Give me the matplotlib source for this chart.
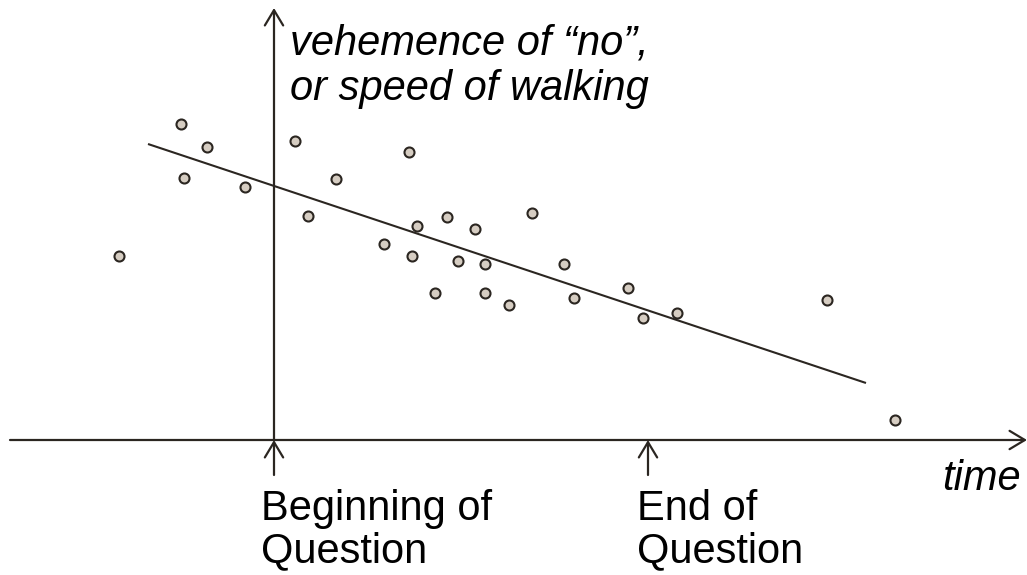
import matplotlib

matplotlib.use("Agg")
import matplotlib.pyplot as plt

# readings (time, vehemence), origin at the axes crossing
time_pts = [-1.55, -0.93, -0.67, -0.90, -0.29, 0.21, 0.34, 0.62, 1.35, 1.10, 1.43, 1.38, 1.73, 2.01,
            1.84, 2.11, 1.61, 2.11, 2.35, 2.58, 2.90, 3.00, 3.54, 3.69, 4.03, 5.53, 6.21]
vehemence = [1.84, 3.16, 2.93, 2.62, 2.53, 2.99, 2.24, 2.61, 2.88, 1.96, 2.14, 1.84, 2.23, 2.11,
             1.79, 1.76, 1.47, 1.47, 1.35, 2.27, 1.76, 1.42, 1.52, 1.22, 1.27, 1.40, 0.20]
trend_x = [-1.26, 5.92]
trend_y = [2.96, 0.57]

question_start = 0.0
question_end = 3.74

INK = "#2b2621"
FILL = "#d6cdc2"
FONT = "Liberation Sans"
FS = 30

fig = plt.figure(figsize=(10.27, 5.75), dpi=100)
ax = fig.add_axes([0, 0, 1, 1])
ax.set_xlim(-2.74, 7.53)
ax.set_ylim(-1.35, 4.40)
ax.axis("off")

arrow = dict(arrowstyle="->, head_length=0.55, head_width=0.33", color=INK, lw=1.6,
             mutation_scale=20, shrinkA=0, shrinkB=0)

# axes drawn as open arrows
ax.annotate("", xy=(7.53, 0), xytext=(-2.64, 0), arrowprops=arrow)
ax.annotate("", xy=(0, 4.32), xytext=(0, 0), arrowprops=arrow)

# markers for start / end of the question
for xm in (question_start, question_end):
    ax.annotate("", xy=(xm, 0), xytext=(xm, -0.35), arrowprops=arrow)

ax.plot(trend_x, trend_y, color=INK, lw=1.5, solid_capstyle="butt", zorder=2)
ax.scatter(time_pts, vehemence, s=52, facecolor=FILL, edgecolor=INK, linewidth=1.5, zorder=3)

ax.text(0.16, 3.85, "vehemence of \u201cno\u201d,", fontsize=FS, family=FONT, style="italic", va="baseline")
ax.text(0.16, 3.40, "or speed of walking", fontsize=FS, family=FONT, style="italic", va="baseline")
ax.text(6.68, -0.50, "time", fontsize=FS, family=FONT, style="italic", va="baseline")

ax.text(-0.13, -0.80, "Beginning of", fontsize=FS, family=FONT, va="baseline")
ax.text(-0.13, -1.22, "Question", fontsize=FS, family=FONT, va="baseline")
ax.text(3.63, -0.80, "End of", fontsize=FS, family=FONT, va="baseline")
ax.text(3.63, -1.22, "Question", fontsize=FS, family=FONT, va="baseline")

fig.savefig("out.png", dpi=100)
plt.close(fig)
